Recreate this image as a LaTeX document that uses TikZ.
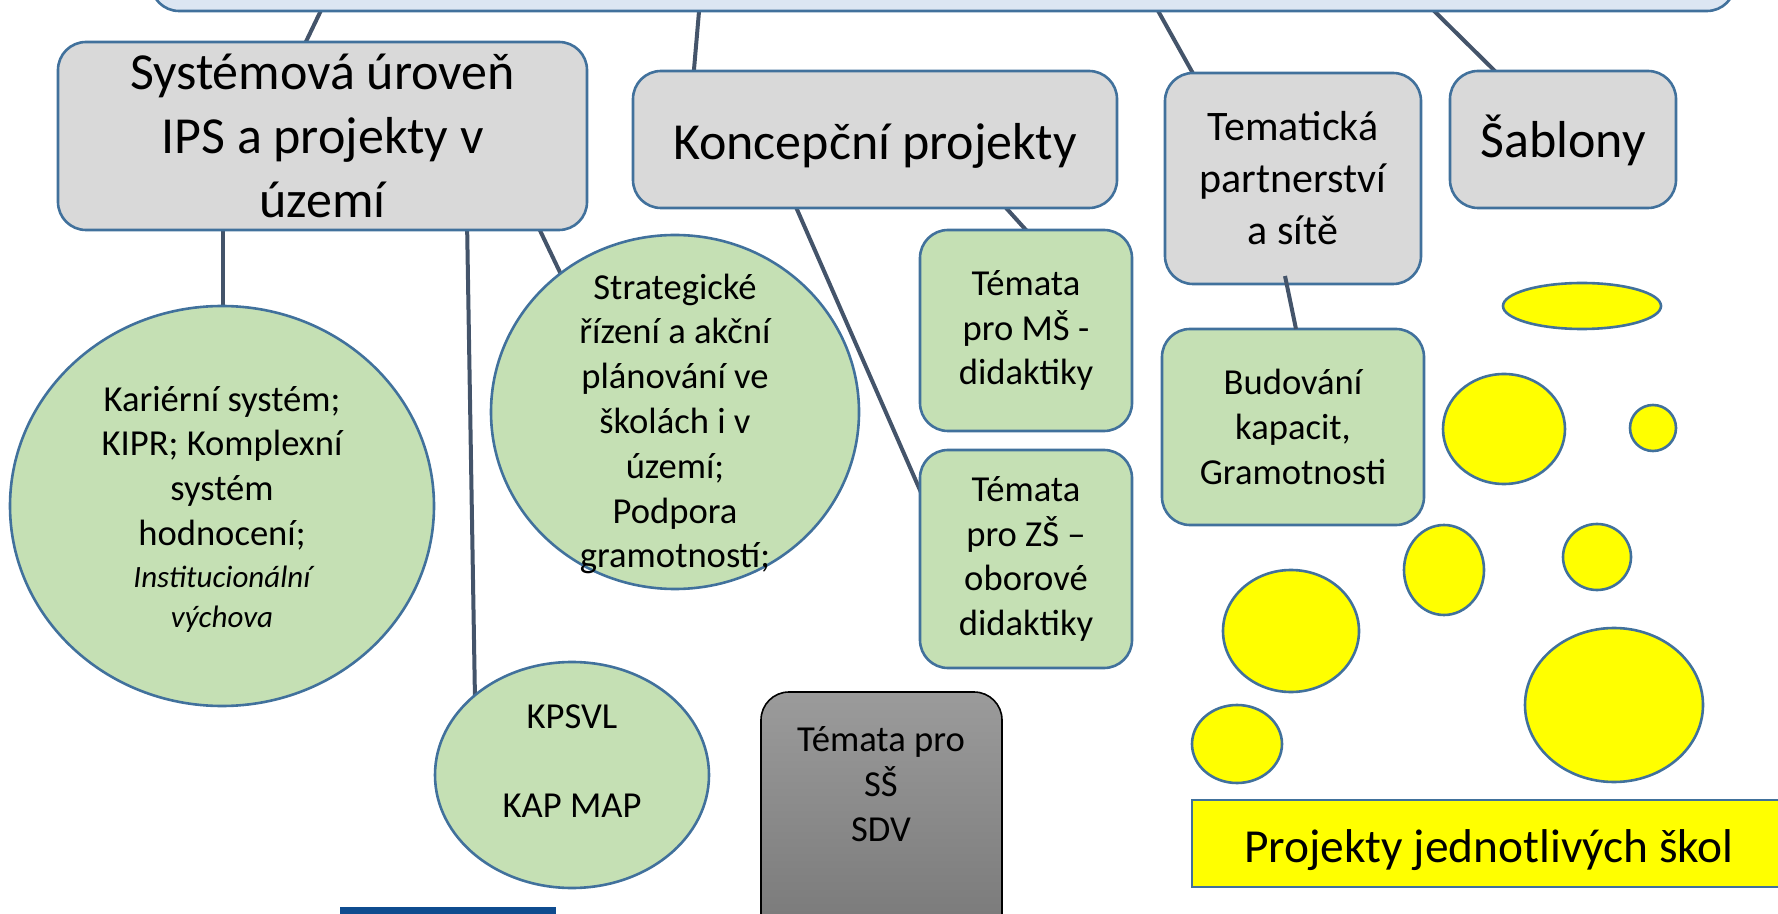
\documentclass[tikz,border=0pt]{standalone}
\usepackage{fontspec}
\setmainfont{Carlito}
\usetikzlibrary{shapes.geometric,calc,backgrounds}
\definecolor{bord}{HTML}{41719C}
\definecolor{conn}{HTML}{44546A}
\definecolor{greyfill}{HTML}{D9D9D9}
\definecolor{greenfill}{HTML}{C5E0B4}
\definecolor{topfill}{HTML}{DCE6F2}
\definecolor{yel}{HTML}{FFFF00}
\definecolor{navy}{HTML}{0F4C8F}
\definecolor{sstop}{HTML}{9B9B9B}
\definecolor{ssbot}{HTML}{777777}
\tikzset{
 base/.style={draw=bord, line width=1.3pt, inner sep=0pt, outer sep=0pt},
 greybox/.style={base, fill=greyfill, rectangle, rounded corners=14pt, align=center},
 greenbox/.style={base, fill=greenfill, rectangle, rounded corners=14pt, align=center},
 greenell/.style={base, fill=greenfill, ellipse},
 bubble/.style={base, fill=yel, ellipse},
 link/.style={draw=conn, line width=2pt},
 bigtxt/.style={font=\fontsize{26}{32}\selectfont},
 midtxt/.style={font=\fontsize{21}{26}\selectfont},
 smtxt/.style={font=\fontsize{18.3}{22.4}\selectfont, align=center, inner sep=0pt},
}
\begin{document}
\begin{tikzpicture}[x=0.5pt,y=-0.5pt]
\useasboundingbox (0,0) rectangle (1778,914);
\clip (0,0) rectangle (1778,914);
% top box
\node[base, fill=topfill, rectangle, rounded corners=14pt, minimum width=792pt, minimum height=50pt] (top) at (943,-39) {};
% grey boxes
\node[greybox, bigtxt, minimum width=264.5pt, minimum height=94pt] (sys) at (322.5,136) {Systémová úroveň\\IPS a projekty v\\území};
\node[greybox, bigtxt, minimum width=242pt, minimum height=68.5pt, text height=19.6pt, text depth=0pt] (konc) at (875,139.5) {Koncepční projekty};
\node[greybox, midtxt, minimum width=128pt, minimum height=105.5pt] (tema) at (1293,178.5) {Tematická\\partnerství\\a sítě};
\node[greybox, bigtxt, minimum width=113pt, minimum height=68.5pt, text height=17.8pt, text depth=0pt] (sab) at (1563,139.5) {Šablony};
% green ellipses
\node[greenell, minimum width=212pt, minimum height=200pt] (kar) at (222,506) {};
\node[smtxt] (kart) at (222,509) {Kariérní systém;\\KIPR; Komplexní\\systém\\hodnocení;\\[-1.5pt]{\fontsize{15.5}{20}\selectfont\itshape Institucionální}\\[-2.5pt]{\fontsize{15.5}{20}\selectfont\itshape výchova}};
\node[greenell, minimum width=184pt, minimum height=177pt] (strat) at (675,412) {};
\node[smtxt] (stratt) at (675,424) {Strategické\\řízení a akční\\plánování ve\\školách i v\\území;\\Podpora\\gramotností;};
\node[greenell, minimum width=137pt, minimum height=113pt] (kps) at (572,775) {};
\node[smtxt] (kpst) at (572,761) {KPSVL\\[22.4pt]KAP MAP};
% grey gradient box
\node[rectangle, rounded corners=14pt, draw=black, line width=0.8pt, top color=sstop, bottom color=ssbot, minimum width=120.5pt, minimum height=129pt, inner sep=0pt] (ss) at (881.5,821) {};
\node[smtxt] (sst) at (881,784) {Témata pro\\SŠ\\SDV};
% green boxes
\node[greenbox, smtxt, base, rounded corners=14pt, minimum width=106pt, minimum height=100.5pt] (ms) at (1026,330.5) {Témata\\pro MŠ -\\didaktiky};
\node[greenbox, smtxt, base, rounded corners=14pt, minimum width=106pt, minimum height=109pt] (zs) at (1026,559) {Témata\\pro ZŠ –\\oborové\\didaktiky};
\node[greenbox, smtxt, base, rounded corners=14pt, minimum width=131pt, minimum height=98pt] (bud) at (1293,427) {Budování\\kapacit,\\Gramotnosti};
% yellow bubbles
\node[bubble, minimum width=79pt, minimum height=23pt] (b1) at (1582,306) {};
\node[bubble, minimum width=61pt, minimum height=55pt] (b2) at (1504,429) {};
\node[bubble, minimum width=23pt, minimum height=23pt] (b3) at (1653,428) {};
\node[bubble, minimum width=40pt, minimum height=45pt] (b4) at (1444,570) {};
\node[bubble, minimum width=34pt, minimum height=33pt] (b5) at (1597,557) {};
\node[bubble, minimum width=68pt, minimum height=61pt] (b6) at (1291,631) {};
\node[bubble, minimum width=89pt, minimum height=77pt] (b7) at (1614,705) {};
\node[bubble, minimum width=45pt, minimum height=39pt] (b8) at (1237,744) {};
% yellow label box
\node[base, fill=yel, rectangle, minimum width=297pt, minimum height=43.5pt, text height=19pt, text depth=0pt, font=\fontsize{23.7}{28}\selectfont] (proj) at (1489,843.5) {Projekty jednotlivých škol};
% navy bar at bottom
\node[rectangle, fill=navy, minimum width=108pt, minimum height=23pt, inner sep=0pt] (bar) at (448,930) {};
% connectors
\begin{pgfonlayer}{background}
\draw[link] ($(top.south)+(-617,-11)$) -- ($(sys.north)+(-21.5,10)$);
\draw[link] ($(top.south)+(-243,-11)$) -- ($(konc.north)+(-182,10)$);
\draw[link] ($(top.south)+(209,-11)$) -- ($(tema.north)+(-93,13)$);
\draw[link] ($(top.south)+(480,-11)$) -- ($(sab.north)+(-58,10)$);
\draw[link] ($(sys.south)+(-99.5,-10)$) -- ($(kar.north)+(1,14)$);
\draw[link] ($(sys.south)+(144.5,-10)$) -- ($(kps.center)+(-97,-75)$);
\draw[link] ($(sys.south)+(212.5,-10)$) -- ($(strat.center)+(-97,-102)$);
\draw[link] ($(konc.south)+(-83,-10)$) -- ($(zs.west)+(10,-46)$);
\draw[link] ($(konc.south)+(123,-9)$) -- ($(ms.north)+(9,10)$);
\end{pgfonlayer}
\draw[link] ($(tema.south)+(-8,-8)$) -- ($(bud.north)+(3,0)$);
\end{tikzpicture}
\end{document}
